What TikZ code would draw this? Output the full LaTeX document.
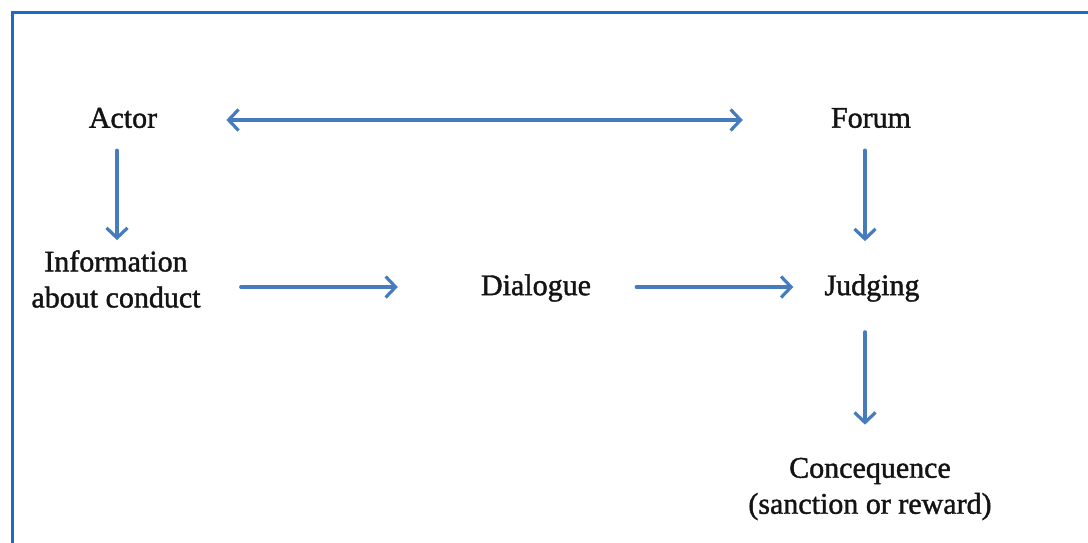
\documentclass[tikz,border=0pt]{standalone}
\usepackage{fontspec}
\setmainfont{Liberation Serif}[FakeBold=1.4]
\usetikzlibrary{arrows.meta}
\definecolor{framec}{RGB}{26,108,200}
\definecolor{arrc}{RGB}{70,124,190}
\tikzset{
  lbl/.style={inner sep=0pt, font=\fontsize{30}{36}\selectfont, text=black!92, align=center},
  tip/.tip={Straight Barb[length=10pt,width=21pt,line width=3.2pt]},
  arr/.style={draw=arrc, line width=3.2pt, line cap=round, -tip},
  darr/.style={arr, tip-tip}
}
\begin{document}
\begin{tikzpicture}[x=1pt,y=-1pt]
\useasboundingbox (0,0) rectangle (1088,543);
\draw[framec, line width=3.4pt] (1100,12.5) -- (12.5,12.5) -- (12.5,560);
\node[lbl] (actor) at (123,118) {Actor};
\node[lbl] (forum) at (871,118) {Forum};
\node[lbl] (info) at (116,279) {Information\\about conduct};
\node[lbl] (dialogue) at (536,288) {Dialogue};
\node[lbl] (judging) at (872,288) {Judging};
\node[lbl] (conseq) at (870,489) {Concequence\\(sanction or reward)};
\draw[darr, shorten <=69pt, shorten >=88pt] ([yshift=-2pt]actor.east) -- ([yshift=-2pt]forum.west);
\draw[arr, shorten <=22pt, shorten >=10pt] ([xshift=1pt]info.north |- actor.south) -- ([xshift=1pt]info.north);
\draw[arr, shorten <=22pt, shorten >=33pt] ([xshift=-6pt]forum.south) -- ([xshift=-6pt]forum.south |- judging.north);
\draw[arr, shorten <=40pt, shorten >=83pt] ([yshift=1pt]info.east |- dialogue.west) -- ([yshift=1pt]dialogue.west);
\draw[arr, shorten <=45pt, shorten >=31pt] ([yshift=1pt]dialogue.east) -- ([yshift=1pt]judging.west);
\draw[arr, shorten <=30pt, shorten >=33pt] ([xshift=-7pt]judging.south) -- ([xshift=-7pt]judging.south |- conseq.north);
\end{tikzpicture}
\end{document}
